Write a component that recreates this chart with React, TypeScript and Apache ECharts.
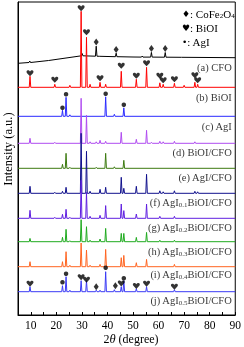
import React, { useEffect, useRef } from 'react';
import * as echarts from 'echarts';

// ---- data ----
const thetaMin = 5;
const thetaMax = 90;
const tickStep = 5;
const labelStep = 10;

// common peak positions (2θ, degrees)
const peakPos = [9.7, 19.4, 22.4, 23.8, 25.3, 29.7, 31.8, 33.2, 35.6, 37.1, 39.3, 42.7, 45.4, 46.4, 51.3, 55.3, 57.2, 60.5, 61.8, 62.6, 66.2, 70.0, 74.2, 75.3];

// (a) CFO pattern, read point by point (2θ, intensity incl. offset)
const cfoPattern = [
  [5, 251.7], [9.3, 252.5], [9.6, 254], [9.9, 252.5], [17, 254.5], [23, 256.7],
  [29.8, 259.2], [30.1, 261.5], [30.4, 259.2], [35.3, 258.8], [35.6, 268.8], [35.9, 258.8],
  [37, 258.7], [43.1, 258.3], [43.4, 261.8], [43.7, 258.3], [50, 258], [53.3, 257.9],
  [53.6, 259], [53.9, 257.9], [56.9, 257.9], [57.2, 262.6], [57.5, 257.9], [62.3, 257.8],
  [62.6, 262.5], [62.9, 257.8], [69, 257.7], [90, 257.3],
];

// peak heights aligned with peakPos for traces (b)..(j)
const bBiOI = [11, 3, 0, 0, 2, 76, 50, 3, 0, 5, 3, 0, 16, 0, 8, 20, 0, 4.5, 3, 0, 4, 2, 5, 3];
const cAgI = [0, 0, 6, 19, 1.5, 0, 0, 0, 0, 0, 19.5, 2, 0, 8.5, 0, 0, 0, 0, 0, 0, 0, 0, 0, 0];
const dBiOICFO = [5, 1, 0, 0, 0, 45, 28, 1.5, 1.5, 3, 2, 0, 11, 0, 4, 13, 1, 2, 1.5, 0, 2, 0, 1.5, 0];
const eAgICFO = [0, 0, 4, 15, 1, 0, 0, 0, 1, 0, 15, 1.5, 0, 8, 0, 0, 0, 0, 0, 0, 0, 0, 0, 0];
const fAgI01 = [7, 1, 2, 6, 0, 60, 42, 2, 0, 4, 6, 0, 16, 5, 7, 19, 0, 2.5, 1.5, 0, 2.5, 0, 2, 1.5];
const gAgI02 = [8, 1, 4, 9, 1, 38, 26, 2, 0, 3, 12.7, 0, 14.3, 7.7, 4.3, 14.3, 0, 2, 0, 0, 2, 0, 0, 0];
const hAgI03 = [3.3, 0, 4.4, 12.4, 1, 22, 15, 1.5, 0, 2.7, 13.3, 0, 8.3, 8.3, 4.3, 9.3, 0, 1.5, 0, 0, 1.5, 0, 0, 0];
const iAgI04 = [5, 0, 5, 15, 1.5, 23.7, 16.7, 1.5, 0, 2.3, 17.3, 0, 9, 11.3, 4, 7.3, 0, 0, 0, 0, 2.3, 0, 0, 0];
const jAgI05 = [5, 0, 6, 15, 1.5, 11, 11, 0, 1.5, 1.5, 20, 2, 5, 11, 3, 5, 0, 0, 0, 0, 2, 0, 0, 0];

// vertical offsets of the stacked patterns (a)..(j)
const traceOffsets = [257.5, 227.7, 198.7, 171.7, 146.7, 121.7, 96.7, 73.3, 48.3, 23.3];

const traceLabels = [
  '(a) CFO',
  '(b) BiOI',
  '(c) AgI',
  '(d) BiOI/CFO',
  '(e) AgI/CFO',
  '(f) AgI{s|0.1}BiOI/CFO',
  '(g) AgI{s|0.2}BiOI/CFO',
  '(h) AgI{s|0.3}BiOI/CFO',
  '(i) AgI{s|0.4}BiOI/CFO',
  '(j) AgI{s|0.5}BiOI/CFO',
];
// label height above each pattern's offset
const labelLift = [-10, -10.6, -10, -8.8, -9.2, -9.2, -9.3, -9.8, -8.2, -9.2];

// phase markers: [2θ, height above the pattern's offset]
const aDiamonds = [[35.6, 15.5], [43.4, 8], [57.2, 9], [62.6, 9]];
const bHearts = [[9.7, 14], [19.4, 7.5], [29.7, 79], [31.8, 55], [37.1, 9], [45.4, 21.5], [51.3, 11.5], [55.3, 24], [60.5, 11.5], [61.8, 7], [66.2, 8], [74.2, 12], [75.3, 7]];
const cCircles = [[22.4, 8.5], [23.8, 22], [39.3, 22.5], [46.4, 11.5]];
const jHearts = [[9.7, 8], [29.7, 14.5], [31.8, 12], [45.4, 8.3], [51.3, 5.7], [55.3, 8], [66.2, 5]];
const jCircles = [[22.4, 9.5], [23.8, 18], [39.3, 24], [46.4, 13.5]];
const jDiamonds = [[35.6, 5], [43.1, 6]];

// ---- styles ----
const colors = ['#000000', '#ff0000', '#2a2aff', '#b04cf0', '#3c7a10', '#10108c', '#6020e0', '#1faa1f', '#ff6420', '#3a3af5'];
const FONT = '"Liberation Serif", "Times New Roman", serif';
const HEART = 'path://M12,21 L3,11.5 C0,8.5 1,3 6,3 C9,3 11,5 12,7 C13,5 15,3 18,3 C23,3 24,8.5 21,11.5 Z';
const HALF_W = 0.3;

function buildTrace(offset: number, heights: number[]) {
  const pts: number[][] = [[thetaMin, offset]];
  peakPos.forEach((p, i) => {
    const h = heights[i];
    if (h > 0) {
      pts.push([p - HALF_W, offset], [p, offset + h], [p + HALF_W, offset]);
    }
  });
  pts.push([thetaMax, offset]);
  return pts;
}

function place(marks: number[][], offset: number) {
  return marks.map(([t, h]) => [t, offset + h]);
}

export default function App() {
  const ref = useRef<HTMLDivElement>(null);
  useEffect(() => {
    if (!ref.current) return;
    const chart = echarts.init(ref.current, undefined, { renderer: 'svg' });
    const patterns = [bBiOI, cAgI, dBiOICFO, eAgICFO, fAgI01, gAgI02, hAgI03, iAgI04, jAgI05];
    const lineData = [cfoPattern, ...patterns.map((h, k) => buildTrace(traceOffsets[k + 1], h))];
    const lineSeries = lineData.map((d, k) => ({
      type: 'line',
      data: d,
      symbol: 'none',
      lineStyle: { color: colors[k], width: 1 },
      z: 2,
    }));
    const sub = { fontSize: 7, fontFamily: FONT, color: '#000', verticalAlign: 'bottom', lineHeight: 7, padding: [4, 0, 0, 0] };
    // labels attached to the data coordinates through a scatter with invisible symbols
    const labelData = traceLabels.map((t, k) => ({
      value: [thetaMax, traceOffsets[k] + labelLift[k]],
      label: { formatter: t },
    }));
    const legendRows = [
      { sym: '♦', text: ': CoFe{s|2}O{s|4}', y: 14 },
      { sym: '♥', text: ': BiOI', y: 28.3 },
      { sym: '•', text: ': AgI', y: 41.7 },
    ];
    const legendTexts = legendRows.map((r) => ({
      type: 'text',
      x: 182,
      y: r.y,
      style: {
        text: '{g|' + r.sym + '}' + r.text,
        fontSize: 11,
        fontFamily: FONT,
        fill: '#000',
        align: 'left',
        verticalAlign: 'middle',
        rich: {
          g: { fontSize: 9, fontFamily: '"DejaVu Sans", sans-serif', fill: '#000' },
          s: { fontSize: 7, fontFamily: FONT, fill: '#000', verticalAlign: 'bottom', lineHeight: 7, padding: [4, 0, 0, 0] },
        },
      },
    }));

    chart.setOption({
      animation: false,
      grid: { left: 18, right: 8, top: 2, bottom: 32, show: true, borderColor: '#000', borderWidth: 1 },
      xAxis: {
        type: 'value',
        min: thetaMin,
        max: thetaMax,
        interval: tickStep,
        axisLine: { show: true, lineStyle: { color: '#000', width: 1 } },
        axisTick: { show: true, inside: true, length: 3, lineStyle: { color: '#000' } },
        axisLabel: {
          formatter: (v: number) => (v % labelStep === 0 ? String(v) : ''),
          fontSize: 11.5,
          fontFamily: FONT,
          color: '#000',
          margin: 4,
        },
        splitLine: { show: false },
      },
      yAxis: {
        type: 'value',
        min: 0,
        max: 313,
        axisLine: { show: true, lineStyle: { color: '#000' } },
        axisTick: { show: false },
        axisLabel: { show: false },
        splitLine: { show: false },
      },
      graphic: [
        ...legendTexts,
        {
          type: 'text',
          x: 7.5,
          y: 149,
          rotation: Math.PI / 2,
          style: { text: 'Intensity (a.u.)', fontSize: 12.5, fontFamily: FONT, fill: '#000', align: 'center', verticalAlign: 'middle' },
        },
        {
          type: 'text',
          x: 131,
          y: 339,
          style: {
            text: '2{i|θ} (degree)',
            fontSize: 12,
            fontFamily: FONT,
            fill: '#000',
            align: 'center',
            verticalAlign: 'middle',
            rich: { i: { fontStyle: 'italic', fontSize: 12.5, fontFamily: FONT, fill: '#000' } },
          },
        },
      ],
      series: [
        ...lineSeries,
        {
          type: 'scatter',
          name: 'labels',
          symbol: 'circle',
          symbolSize: 1,
          silent: true,
          itemStyle: { color: 'rgba(0,0,0,0)' },
          data: labelData,
          label: {
            show: true,
            position: 'left',
            distance: 3,
            fontSize: 10.5,
            fontFamily: FONT,
            color: '#000',
            rich: { s: sub },
          },
          z: 4,
        },
        {
          type: 'scatter',
          name: 'CoFe2O4',
          symbol: 'diamond',
          symbolSize: [5, 7],
          itemStyle: { color: '#000' },
          data: [...place(aDiamonds, traceOffsets[0]), ...place(jDiamonds, traceOffsets[9])],
          z: 5,
        },
        {
          type: 'scatter',
          name: 'BiOI',
          symbol: HEART,
          symbolSize: [7, 6],
          itemStyle: { color: '#000' },
          data: [...place(bHearts, traceOffsets[1]), ...place(jHearts, traceOffsets[9])],
          z: 5,
        },
        {
          type: 'scatter',
          name: 'AgI',
          symbol: 'circle',
          symbolSize: 4.5,
          itemStyle: { color: '#000' },
          data: [...place(cCircles, traceOffsets[2]), ...place(jCircles, traceOffsets[9])],
          z: 5,
        },
      ],
    });
    return () => chart.dispose();
  }, []);
  return <div ref={ref} style={{ position: 'fixed', left: 0, top: 0, width: 244, height: 347 }} />;
}
